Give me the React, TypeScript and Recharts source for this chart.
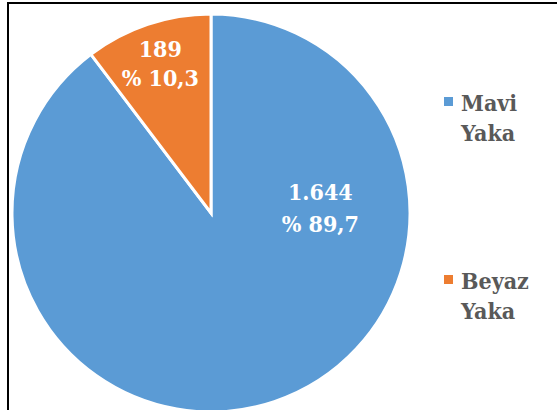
import { PieChart, Pie, Cell, Legend } from "recharts";

const CATEGORIES = ["Mavi Yaka", "Beyaz Yaka"];
const COUNTS = [1644, 189];
const COUNT_LABELS = ["1.644", "189"];
const PERCENT_LABELS = ["% 89,7", "% 10,3"];
const COLORS = ["#5B9BD5", "#ED7D31"];

const FONT = "'DejaVu Serif Condensed', 'DejaVu Serif', serif";
// label placement like Excel's "best fit": [angle in degrees, fraction of radius]
const LABEL_POS: [number | null, number][] = [[3, 0.55], [null, 0.8]];

const data = CATEGORIES.map((name, i) => ({ name, value: COUNTS[i] }));

const RAD = Math.PI / 180;

function renderLabel(props: any) {
  const { cx, cy, outerRadius, midAngle, index } = props;
  const [ang, frac] = LABEL_POS[index];
  const a = ang === null ? midAngle : ang;
  const r = outerRadius * frac;
  const x = cx + r * Math.cos(-a * RAD);
  const y = cy + r * Math.sin(-a * RAD);
  const gap = index === 0 ? 32 : 29;
  return (
    <text x={x} textAnchor="middle" fill="#fff" style={{ fontFamily: FONT, fontStretch: "condensed" }} fontWeight="bold" fontSize={23}>
      <tspan x={x} y={y - gap / 2 + 9}>{COUNT_LABELS[index]}</tspan>
      <tspan x={x} y={y + gap / 2 + 9}>{PERCENT_LABELS[index]}</tspan>
    </text>
  );
}

function LegendBox() {
  return (
    <div style={{ position: "relative", width: 117, height: 240, fontFamily: FONT, fontStretch: "condensed" }}>
      {CATEGORIES.map((c, i) => {
        const [w1, w2] = c.split(" ");
        return (
          <div key={c} style={{ position: "absolute", left: 0, top: i * 178, width: 117 }}>
            <div style={{ position: "absolute", left: 4, top: 9, width: 9, height: 9, background: COLORS[i] }} />
            <div style={{ position: "absolute", left: 21, top: 0, color: "#595959", fontWeight: "bold", fontSize: 23, lineHeight: "30px", textAlign: "left", whiteSpace: "nowrap" }}>
              {w1}<br />{w2}
            </div>
          </div>
        );
      })}
    </div>
  );
}

export default function App() {
  return (
    <div style={{ position: "absolute", left: 0, top: 0, width: 557, height: 410, background: "#fff", overflow: "hidden" }}>
      <div style={{ position: "absolute", left: 7, top: 2, width: 560, height: 420, borderTop: "2px solid #000", borderLeft: "2px solid #000" }} />
      <PieChart width={557} height={410} margin={{ top: 0, right: 0, bottom: 0, left: 0 }}>
        <Pie
          data={data}
          dataKey="value"
          nameKey="name"
          cx={211}
          cy={213}
          outerRadius={199}
          startAngle={90}
          endAngle={-270}
          stroke="#fff"
          strokeWidth={3}
          label={renderLabel}
          labelLine={false}
          isAnimationActive={false}
        >
          {data.map((_, i) => <Cell key={i} fill={COLORS[i]} />)}
        </Pie>
        <Legend content={() => <LegendBox />} wrapperStyle={{ left: 440, top: 88, width: 117 }} />
      </PieChart>
    </div>
  );
}
